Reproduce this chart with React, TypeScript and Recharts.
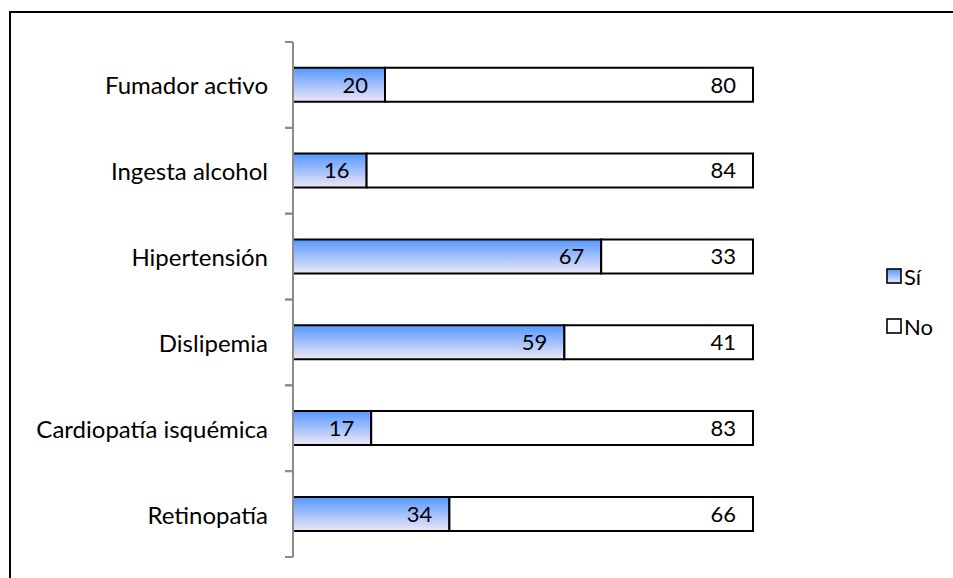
import { BarChart, Bar, XAxis, YAxis, LabelList } from "recharts";

const categories = [
  "Fumador activo",
  "Ingesta alcohol",
  "Hipertensión",
  "Dislipemia",
  "Cardiopatía isquémica",
  "Retinopatía",
];
const siValues = [20, 16, 67, 59, 17, 34];
const noValues = [80, 84, 33, 41, 83, 66];
const legendItems = ["Sí", "No"];

const data = categories.map((name, i) => ({
  name,
  si: siValues[i],
  no: noValues[i],
}));

const FONT = "Lato, 'Open Sans', sans-serif";
const AXIS_GRAY = "#8c8c8c";

// category label plus tick marks on the band edges
function CategoryTick(props: any) {
  const { x, y, payload } = props;
  const half = payload.offset ?? 0;
  const ax = x + 25;
  return (
    <g>
      <line x1={ax - 8} x2={ax} y1={y - half} y2={y - half} stroke={AXIS_GRAY} strokeWidth={2} />
      <line x1={ax - 8} x2={ax} y1={y + half} y2={y + half} stroke={AXIS_GRAY} strokeWidth={2} />
      <text
        x={x}
        y={y}
        textAnchor="end"
        dominantBaseline="central"
        fontFamily={FONT}
        fontSize={24}
        fill="#000"
      >
        {payload.value}
      </text>
    </g>
  );
}

function LegendBox() {
  return (
    <div
      style={{
        position: "absolute",
        left: 886,
        top: 251,
        width: 66,
        fontFamily: FONT,
        fontSize: 22,
        color: "#000",
      }}
    >
      {legendItems.map((label, i) => (
        <div key={label} style={{ display: "flex", alignItems: "center", height: 50 }}>
          <svg width={17} height={17} style={{ marginRight: 1, flexShrink: 0, display: "block" }}>
            <defs>
              <linearGradient id="legGrad" x1="0" y1="0" x2="0" y2="1">
                <stop offset="0%" stopColor="#5597ff" />
                <stop offset="100%" stopColor="#eee8f6" />
              </linearGradient>
            </defs>
            <rect
              x={1}
              y={1}
              width={14}
              height={14}
              fill={i === 0 ? "url(#legGrad)" : "#fff"}
              stroke="#000"
              strokeWidth={1.6}
            />
          </svg>
          <span>{label}</span>
        </div>
      ))}
    </div>
  );
}

export default function App() {
  return (
    <div
      style={{
        position: "absolute",
        left: 0,
        top: 0,
        width: 953,
        height: 578,
        background: "#fff",
        overflow: "hidden",
      }}
    >
      <div
        style={{
          position: "absolute",
          left: 9,
          top: 11,
          width: 960,
          height: 600,
          borderTop: "2px solid #000",
          borderLeft: "2px solid #000",
        }}
      />
      <BarChart
        width={953}
        height={578}
        data={data}
        layout="vertical"
        barCategoryGap="30%"
        margin={{ top: 42, right: 200, bottom: 21, left: 0 }}
        style={{ position: "absolute", left: 0, top: 0 }}
      >
        <defs>
          <linearGradient id="siGrad" x1="0" y1="0" x2="0" y2="1">
            <stop offset="0%" stopColor="#5597ff" />
            <stop offset="100%" stopColor="#eee8f6" />
          </linearGradient>
        </defs>
        <XAxis type="number" domain={[0, 100]} hide />
        <YAxis
          type="category"
          dataKey="name"
          width={293}
          axisLine={{ stroke: AXIS_GRAY, strokeWidth: 2 }}
          tickLine={false}
          tickSize={0}
          tickMargin={25}
          tick={<CategoryTick />}
        />
        <Bar
          dataKey="si"
          name="Sí"
          stackId="a"
          fill="url(#siGrad)"
          stroke="#000"
          strokeWidth={2}
          isAnimationActive={false}
        >
          <LabelList
            dataKey="si"
            position="insideRight"
            offset={17}
            style={{ fontFamily: FONT, fontSize: 22, fill: "#000" }}
          />
        </Bar>
        <Bar
          dataKey="no"
          name="No"
          stackId="a"
          fill="#ffffff"
          stroke="#000"
          strokeWidth={2}
          isAnimationActive={false}
        >
          <LabelList
            dataKey="no"
            position="insideRight"
            offset={17}
            style={{ fontFamily: FONT, fontSize: 22, fill: "#000" }}
          />
        </Bar>
      </BarChart>
      <LegendBox />
    </div>
  );
}
